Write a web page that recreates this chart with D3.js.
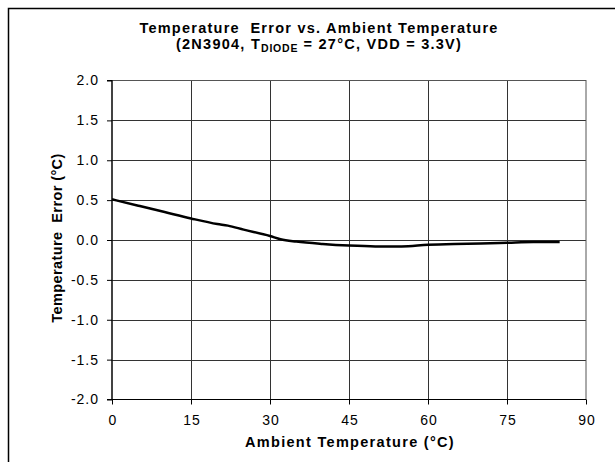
<!DOCTYPE html>
<html><head><meta charset="utf-8">
<script src="https://cdn.jsdelivr.net/npm/d3@7/dist/d3.min.js"></script>
<style>body{margin:0;background:#fff;}svg{display:block;font-family:"Liberation Sans",Arial,sans-serif;}</style>
</head><body>
<svg id="c" width="615" height="462"></svg>
<script>
const temps = [0,5,10,15,20,22,25,30,32,35,40,45,50,55,60,65,70,75,80,85];
const errors = [0.51,0.43,0.35,0.27,0.2,0.18,0.13,0.05,0.01,-0.02,-0.05,-0.07,-0.08,-0.08,-0.06,-0.05,-0.045,-0.035,-0.025,-0.025];
const xTicks = [0,15,30,45,60,75,90];
const yTicks = [-2.0,-1.5,-1.0,-0.5,0.0,0.5,1.0,1.5,2.0];

const svg = d3.select("#c");
const L=112, R=586, T=80.5, B=399.5;
const x = d3.scaleLinear().domain([0,90]).range([L,R]);
const y = d3.scaleLinear().domain([-2,2]).range([B,T]);

svg.append("path").attr("d","M8.5,462 L8.5,8.5 L615,8.5").attr("fill","none").attr("stroke","#000").attr("stroke-width",1.5);

svg.append("g").selectAll("line").data(xTicks.slice(1,-1)).join("line")
  .attr("x1",d=>Math.round(x(d))+0.5).attr("x2",d=>Math.round(x(d))+0.5).attr("y1",T).attr("y2",B)
  .attr("stroke","#333").attr("stroke-width",1);
svg.append("g").selectAll("line").data(yTicks.slice(1,-1)).join("line")
  .attr("y1",d=>Math.round(y(d))+0.5).attr("y2",d=>Math.round(y(d))+0.5).attr("x1",L).attr("x2",R)
  .attr("stroke","#333").attr("stroke-width",1);
svg.append("rect").attr("x",L).attr("y",T).attr("width",R-L).attr("height",B-T)
  .attr("fill","none").attr("stroke","#555").attr("stroke-width",1);

const xAxis = d3.axisBottom(x).tickValues(xTicks).tickFormat(d=>String(d)).tickSize(5).tickPadding(11);
const gx = svg.append("g").attr("transform",`translate(0,${B})`).call(xAxis);
const yAxis = d3.axisLeft(y).tickValues(yTicks).tickFormat(d=>d.toFixed(1)).tickSize(5).tickPadding(8);
const gy = svg.append("g").attr("transform",`translate(${L},0)`).call(yAxis);
[gx,gy].forEach(g=>{
  g.select(".domain").attr("stroke","#000").attr("stroke-width",1.2);
  g.selectAll(".tick line").attr("stroke","#000");
  g.selectAll(".tick text").attr("font-size",14).attr("fill","#000").attr("letter-spacing",1)
    .attr("font-family","Liberation Sans, Arial, sans-serif");
});
gx.selectAll(".tick text").attr("dx",0.5);
gy.select(".domain").attr("d",`M-5,${T}H0V${B}H-5`).attr("fill","none");
gx.select(".domain").attr("d",`M${L},0H${R}`);

const line = d3.line().x(d=>x(d[0])).y(d=>y(d[1])).curve(d3.curveMonotoneX);
svg.append("path").datum(temps.map((t,i)=>[t,errors[i]])).attr("d",line)
  .attr("fill","none").attr("stroke","#000").attr("stroke-width",2.5).attr("stroke-linejoin","round");

const t = svg.append("text").attr("x",319).attr("y",33).attr("text-anchor","middle")
  .attr("font-size",14.5).attr("font-weight","bold").attr("letter-spacing",1.25).style("white-space","pre");
t.text("Temperature  Error vs. Ambient Temperature");
const t2 = svg.append("text").attr("x",319).attr("y",49).attr("text-anchor","middle")
  .attr("font-size",14.5).attr("font-weight","bold").attr("letter-spacing",1.25);
t2.append("tspan").text("(2N3904, T");
t2.append("tspan").text("DIODE").attr("font-size",10.5).attr("letter-spacing",0.8).attr("dy",3);
t2.append("tspan").text(" = 27°C, VDD = 3.3V)").attr("dy",-3);

svg.append("text").attr("x",350).attr("y",447).attr("text-anchor","middle")
  .attr("font-size",14.5).attr("font-weight","bold").attr("letter-spacing",1.3).text("Ambient Temperature (°C)");
svg.append("text").attr("transform","translate(62,238) rotate(-90)").attr("text-anchor","middle")
  .attr("font-size",14.5).attr("font-weight","bold").attr("letter-spacing",0.4).style("white-space","pre").text("Temperature  Error (°C)");
</script>
</body></html>
